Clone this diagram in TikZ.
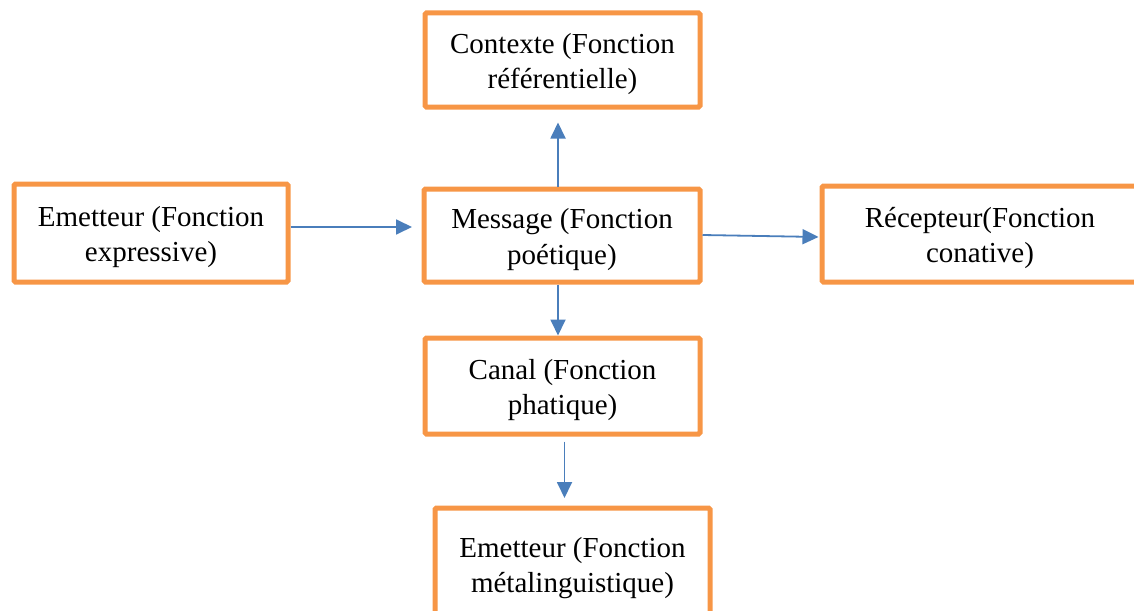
\documentclass[tikz,border=0pt]{standalone}
\usepackage{fontspec}
\setmainfont{Liberation Serif}
\usetikzlibrary{arrows.meta}
\definecolor{boxorange}{HTML}{F79646}
\definecolor{arrowblue}{HTML}{4A7EBB}
\newcommand{\topstrut}{\rule{0pt}{28pt}}
\tikzset{
  fbox/.style={draw=boxorange, line width=5pt, rounded corners=1.5pt, fill=white,
    align=center, inner sep=0pt, font=\fontsize{29}{35.5}\selectfont},
  flow/.style={draw=arrowblue, line width=1.8pt,
    -{Triangle[length=16pt,width=15pt]}}
}
\begin{document}
\begin{tikzpicture}[x=1pt,y=-1pt]
\useasboundingbox (0,0) rectangle (1134,610);
\clip (0,0) rectangle (1134,610);
\node[fbox, minimum width=275pt, minimum height=94pt] (ctx) at (562.5,60) {\topstrut Contexte (Fonction\\référentielle)};
\node[fbox, minimum width=276pt, minimum height=93pt] (msg) at (562,235.5) {\topstrut Message (Fonction\\poétique)};
\node[fbox, minimum width=274pt, minimum height=98pt] (emt) at (151,233) {\topstrut Emetteur (Fonction\\expressive)};
\node[fbox, minimum width=316pt, minimum height=96pt] (rec) at (980,234) {\topstrut Récepteur(Fonction\\conative)};
\node[fbox, minimum width=275pt, minimum height=96pt] (can) at (562.5,386) {\topstrut Canal (Fonction\\phatique)};
\node[fbox, minimum width=275pt, minimum height=112pt] (bot) at (572.5,564) {\topstrut Emetteur (Fonction\\métalinguistique)};
\draw[flow, shorten >=13pt] ([xshift=-4pt]msg.north) -- ([xshift=-4pt]msg.north |- ctx.south);
\draw[flow, shorten >=9.5pt] ([yshift=6pt]emt.east) -- ([yshift=6pt]emt.east -| msg.west);
\draw[flow, shorten >=1pt] ([yshift=0.5pt]msg.east) -- ([yshift=-1.5pt]msg.east -| rec.west);
\draw[flow] ([xshift=-4pt]msg.south) -- ([xshift=-4pt]msg.south |- can.north);
\draw[flow, shorten <=5pt, shorten >=7.5pt] ([xshift=2pt]can.south) -- ([xshift=2pt]can.south |- bot.north);
\end{tikzpicture}
\end{document}
